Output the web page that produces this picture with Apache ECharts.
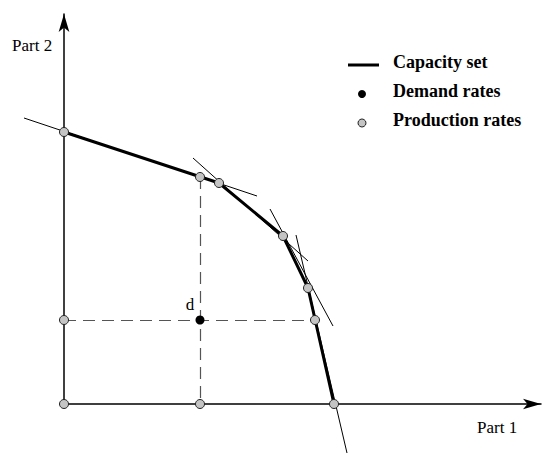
<!DOCTYPE html>
<html>
<head>
<meta charset="utf-8">
<script src="https://cdn.jsdelivr.net/npm/echarts@6/dist/echarts.min.js"></script>
<style>
  html, body { margin: 0; padding: 0; background: #fff; }
  #chart { width: 550px; height: 454px; }
</style>
</head>
<body>
<div id="chart"></div>
<script>
// Vertices of the capacity set boundary (Part 1, Part 2)
const capacityVertices = [[0, 272], [155, 221], [219, 168], [244, 116], [270, 0]];
// Demand rate vector d
const demandRates = [[136, 84]];
// Production rate points on the boundary and on the axes
const productionRates = [
  [0, 272], [136, 227], [155, 221], [219, 168], [244, 116], [251, 84], [270, 0],
  [0, 84], [136, 0], [0, 0]
];
// Constraint lines supporting each facet (start, end)
const constraintLines = [
  [[-40, 286], [193, 208]],
  [[129, 246], [244, 143]],
  [[206, 195], [269, 78]],
  [[232, 169], [283, -49]]
];
// Dashed projections of d onto the boundary
const projectionLines = [
  [[0, 84], [251, 84]],
  [[136, 227], [136, 0]]
];
const axisNames = ['Part 1', 'Part 2'];
const legendNames = ['Capacity set', 'Demand rates', 'Production rates'];

const serif = 'Liberation Serif, Times New Roman, serif';
const pointFill = '#c4c4c4';

const chart = echarts.init(document.getElementById('chart'), null, { renderer: 'svg' });

const axisCommon = {
  type: 'value',
  axisLine: {
    show: true,
    onZero: false,
    symbol: ['none', 'arrow'],
    symbolSize: [8, 18],
    lineStyle: { color: '#000', width: 1.5 }
  },
  axisTick: { show: false },
  axisLabel: { show: false },
  splitLine: { show: false }
};

const series = [
  {
    type: 'lines', coordinateSystem: 'cartesian2d', clip: false, silent: true, z: 2,
    data: constraintLines.map((seg) => ({ coords: seg })),
    lineStyle: { color: '#000', width: 1, opacity: 1 }
  },
  {
    type: 'lines', coordinateSystem: 'cartesian2d', clip: false, silent: true, z: 2,
    data: projectionLines.map((seg) => ({ coords: seg })),
    lineStyle: { color: '#555', width: 1.2, type: [12, 7], opacity: 1 }
  },
  {
    name: legendNames[0], type: 'line', data: capacityVertices, clip: false,
    symbol: 'none', silent: true, z: 3,
    lineStyle: { color: '#000', width: 3 }
  },
  {
    name: legendNames[2], type: 'scatter', data: productionRates, clip: false,
    symbolSize: 9, silent: true, z: 5,
    itemStyle: { color: pointFill, borderColor: '#222', borderWidth: 1, opacity: 1 }
  },
  {
    name: legendNames[1], type: 'scatter', data: demandRates, clip: false,
    symbolSize: 9, silent: true, z: 6,
    itemStyle: { color: '#000', opacity: 1 },
    label: {
      show: true, formatter: 'd', position: 'inside', offset: [-10, -16],
      fontFamily: serif, fontSize: 17, color: '#000'
    }
  }
];

const legendText = (name, y) => ({
  type: 'text', x: 393, y: y, silent: true,
  style: { text: name, font: 'bold 18px ' + serif, fill: '#000', verticalAlign: 'middle', align: 'left' }
});

chart.setOption({
  animation: false,
  backgroundColor: '#fff',
  grid: { left: 64, right: 9, top: 14, bottom: 50 },
  xAxis: Object.assign({ min: 0, max: 477 }, axisCommon),
  yAxis: Object.assign({ min: 0, max: 390 }, axisCommon),
  series: series,
  graphic: [
    { type: 'text', x: 477, y: 427, silent: true,
      style: { text: axisNames[0], font: '17px ' + serif, fill: '#000', verticalAlign: 'middle', align: 'left' } },
    { type: 'text', x: 12, y: 45, silent: true,
      style: { text: axisNames[1], font: '17px ' + serif, fill: '#000', verticalAlign: 'middle', align: 'left' } },
    { type: 'line', silent: true, shape: { x1: 348, y1: 65, x2: 379, y2: 65 },
      style: { stroke: '#000', lineWidth: 3 } },
    { type: 'circle', silent: true, shape: { cx: 362, cy: 94, r: 4 },
      style: { fill: '#000' } },
    { type: 'circle', silent: true, shape: { cx: 362, cy: 123, r: 4 },
      style: { fill: pointFill, stroke: '#222', lineWidth: 1 } },
    legendText(legendNames[0], 61.7),
    legendText(legendNames[1], 90.7),
    legendText(legendNames[2], 119.7)
  ]
});
</script>
</body>
</html>
